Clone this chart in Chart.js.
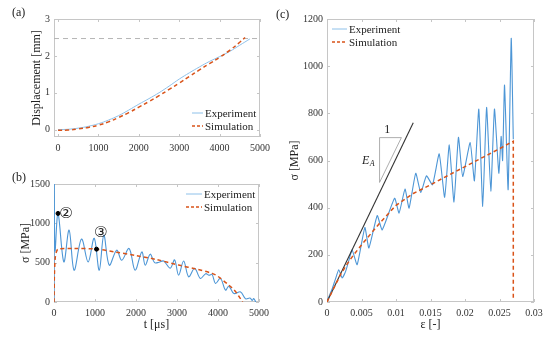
<!DOCTYPE html>
<html lang="en">
<head>
<meta charset="UTF-8">
<script src="https://cdn.jsdelivr.net/npm/chart.js"></script>
<title>Displacement and stress</title>
<style>
    body { margin: 0; background: #fff; }
    #wrap { position: relative; width: 550px; height: 337px; font-family: "Liberation Serif", "DejaVu Serif", serif; color: #222; }
    #wrap canvas { position: absolute; }
    .panel { position: absolute; font-size: 12px; }
    .leg { position: absolute; font-size: 11px; }
    .leg .row { display: flex; align-items: center; height: 13.5px; white-space: nowrap; }
    .leg svg { margin-right: 2px; }
</style>
</head>
<body>
<div id="wrap">
    <canvas id="chartA" width="275" height="165" style="left:0;top:0"></canvas>
    <canvas id="chartB" width="275" height="172" style="left:0;top:165px"></canvas>
    <canvas id="chartC" width="270" height="337" style="left:280px;top:0"></canvas>

    <div class="panel" style="left:12px;top:5px">(a)</div>
    <div class="panel" style="left:12px;top:170px">(b)</div>
    <div class="panel" style="left:276px;top:7px">(c)</div>

    <!-- legends -->
    <div class="leg" style="left:192px;top:106px">
        <div class="row"><svg width="11" height="4"><line x1="0" y1="2" x2="11" y2="2" stroke="#8ec1ea" stroke-width="1"/></svg>Experiment</div>
        <div class="row"><svg width="11" height="4"><line x1="0" y1="2" x2="11" y2="2" stroke="#D95319" stroke-width="1.5" stroke-dasharray="3 2"/></svg>Simulation</div>
    </div>
    <div class="leg" style="left:186px;top:187px">
        <div class="row"><svg width="16" height="4"><line x1="0" y1="2" x2="16" y2="2" stroke="#8ec1ea" stroke-width="1"/></svg>Experiment</div>
        <div class="row"><svg width="16" height="4"><line x1="0" y1="2" x2="16" y2="2" stroke="#D95319" stroke-width="1.5" stroke-dasharray="3 2"/></svg>Simulation</div>
    </div>
    <div class="leg" style="left:332px;top:22px">
        <div class="row"><svg width="15" height="4"><line x1="0" y1="2" x2="15" y2="2" stroke="#8ec1ea" stroke-width="1"/></svg>Experiment</div>
        <div class="row"><svg width="15" height="4"><line x1="0" y1="2" x2="15" y2="2" stroke="#D95319" stroke-width="1.5" stroke-dasharray="3 2"/></svg>Simulation</div>
    </div>
</div>

<script>
    // ---- (a) displacement vs time ----
    const timeExpA = [0, 250, 500, 750, 1000, 1250, 1500, 1750, 2000, 2250, 2500, 2750, 3000, 3250, 3500, 3750, 4000, 4250, 4500, 4750];
    const dispExpA = [0, 0.01, 0.04, 0.09, 0.16, 0.26, 0.38, 0.53, 0.69, 0.84, 1.0, 1.18, 1.37, 1.54, 1.7, 1.85, 1.98, 2.12, 2.29, 2.46];
    const timeSimA = [0, 250, 500, 750, 1000, 1250, 1500, 1750, 2000, 2250, 2500, 2750, 3000, 3250, 3500, 3750, 4000, 4250, 4500, 4630];
    const dispSimA = [-0.02, -0.01, 0.02, 0.06, 0.12, 0.21, 0.33, 0.46, 0.61, 0.76, 0.92, 1.09, 1.26, 1.44, 1.62, 1.79, 1.96, 2.15, 2.37, 2.5];
    const refLineX = [-100, 5000];
    const refLineY = [2.47, 2.47];
    const xTicksA = [0, 1000, 2000, 3000, 4000, 5000];
    const yTicksA = [0, 1, 2, 3];

    // ---- (b) stress vs time ----
    const timeExpB = [0, 8, 25, 98, 240, 368, 490, 671, 833, 980, 1103, 1215, 1348, 1529, 1652, 1831, 1978, 2142, 2225, 2346,
        2453, 2560, 2674, 2836, 2941, 3039, 3162, 3284, 3431, 3570, 3700, 3780, 3856, 3938, 4060, 4183, 4265, 4387, 4551, 4674,
        4780, 4837, 4870, 4920];
    const stressExpB = [0, 1500, 650, 1126, 510, 914, 404, 800, 510, 810, 404, 850, 468, 659, 531, 680, 404, 637, 468, 608,
        500, 505, 521, 430, 535, 342, 521, 321, 428, 300, 360, 340, 350, 236, 300, 150, 201, 108, 128, 40,
        50, 20, 45, 0];
    const timeSimB = [0, 10, 30, 60, 100, 500, 1037, 1500, 2000, 2500, 3039, 3500, 3856, 4000, 4265, 4400, 4500, 4600];
    const stressSimB = [0, 350, 560, 640, 672, 680, 672, 635, 590, 540, 470, 415, 364, 325, 214, 150, 80, 0];
    const markTime = [98, 1037];
    const markStress = [1126, 672];
    const xTicksB = [0, 1000, 2000, 3000, 4000, 5000];
    const yTicksB = [0, 500, 1000, 1500];

    // ---- (c) stress vs strain ----
    const strainExpC = [0, 0.0008, 0.0012, 0.0017, 0.0022, 0.0027, 0.0032, 0.00364, 0.00437, 0.00549, 0.00607, 0.00728, 0.008,
        0.0098, 0.01044, 0.01131, 0.01189, 0.01286, 0.01359, 0.01442, 0.01529, 0.01626, 0.01705, 0.01772, 0.0184, 0.01905,
        0.01966, 0.02075, 0.02136, 0.022, 0.02257, 0.02313, 0.02374, 0.02427, 0.0249, 0.02524, 0.02545, 0.02573, 0.02625,
        0.0267, 0.027];
    const stressExpC = [3, 60, 95, 137, 102, 130, 180, 221, 158, 316, 229, 366, 306,
        440, 377, 479, 398, 546, 464, 535, 497, 628, 444, 666, 424, 698,
        532, 676, 514, 818, 405, 825, 470, 818, 546, 702, 600, 920, 476,
        1118, 690];
    const strainSimC = [0, 0.001, 0.002, 0.003, 0.004, 0.005, 0.0075, 0.01, 0.0125, 0.015, 0.0175, 0.02, 0.0225, 0.025, 0.027, 0.027];
    const stressSimC = [0, 60, 118, 165, 205, 242, 330, 410, 460, 497, 536, 574, 612, 650, 682, 17];
    const strainEA = [0, 0.0125];
    const stressEA = [0, 760];
    const strainTri = [0.00762, 0.00762, 0.01078, 0.00762];
    const stressTri = [507, 697, 697, 507];
    const xTicksC = [0, 0.005, 0.01, 0.015, 0.02, 0.025, 0.03];
    const yTicksC = [0, 200, 400, 600, 800, 1000, 1200];

    const pts = (xs, ys) => xs.map((v, i) => ({ x: v, y: ys[i] }));

    Chart.defaults.font.family = '"Liberation Serif", "DejaVu Serif", serif';
    Chart.defaults.font.size = 10;
    Chart.defaults.color = '#333';

    const EXP = '#8ec1ea';
    const EXP_DARK = '#4d96d6';
    const SIM = '#D95319';
    const FRAME = '#c6c6c6';

    // box around the plot + small inward ticks (matlab style)
    const boxPlugin = {
        id: 'box',
        beforeDatasetsDraw(chart) {
            const { ctx, chartArea: a, scales } = chart;
            ctx.save();
            ctx.strokeStyle = FRAME;
            ctx.lineWidth = 1;
            ctx.strokeRect(Math.round(a.left) + 0.5, Math.round(a.top) + 0.5, Math.round(a.width) - 1, Math.round(a.height) - 1);
            ctx.beginPath();
            scales.x.ticks.forEach(t => {
                const px = Math.round(scales.x.getPixelForValue(t.value)) + 0.5;
                ctx.moveTo(px, a.bottom); ctx.lineTo(px, a.bottom - 3);
                ctx.moveTo(px, a.top); ctx.lineTo(px, a.top + 3);
            });
            scales.y.ticks.forEach(t => {
                const py = Math.round(scales.y.getPixelForValue(t.value)) + 0.5;
                ctx.moveTo(a.left, py); ctx.lineTo(a.left + 3, py);
                ctx.moveTo(a.right, py); ctx.lineTo(a.right - 3, py);
            });
            ctx.stroke();
            ctx.restore();
        }
    };

    // text notes placed at data coordinates
    const notesPlugin = {
        id: 'notes',
        afterDatasetsDraw(chart, args, opts) {
            const { ctx, scales } = chart;
            (opts.items || []).forEach(it => {
                const px = scales.x.getPixelForValue(it.x);
                const py = scales.y.getPixelForValue(it.y);
                ctx.save();
                ctx.fillStyle = '#222';
                ctx.textAlign = 'center';
                ctx.textBaseline = 'middle';
                ctx.font = it.font;
                ctx.fillText(it.text, px, py);
                if (it.sub) {
                    ctx.font = it.subFont;
                    ctx.textAlign = 'left';
                    ctx.fillText(it.sub, px + 4, py + 3);
                }
                ctx.restore();
            });
        }
    };

    function axis(min, max, tickVals, size, title, titlePad, vertical) {
        return {
            type: 'linear',
            min: min,
            max: max,
            afterBuildTicks: s => { s.ticks = tickVals.map(v => ({ value: v })); },
            afterFit: s => { if (vertical) s.width = size; else s.height = size; },
            grid: { display: false, drawTicks: false },
            border: { display: false },
            ticks: { padding: vertical ? 4 : 5, callback: v => String(+v.toFixed(4)), color: '#333' },
            title: {
                display: !!title,
                text: title,
                font: { size: 12 },
                color: '#222',
                padding: vertical ? { top: titlePad } : { bottom: titlePad, top: 0 }
            }
        };
    }

    const common = {
        responsive: false,
        animation: false,
        devicePixelRatio: 1,
        plugins: { legend: { display: false }, tooltip: { enabled: false } },
        elements: { point: { radius: 0 } }
    };

    // (a)
    new Chart(document.getElementById('chartA'), {
        type: 'line',
        data: {
            datasets: [
                { data: pts(timeSimA, dispSimA), borderColor: SIM, borderWidth: 1.5, borderDash: [4, 3], tension: 0.4, order: 0 },
                { data: pts(timeExpA, dispExpA), borderColor: EXP, borderWidth: 1, tension: 0.4, order: 1 },
                { data: pts(refLineX, refLineY), borderColor: '#b5b5b5', borderWidth: 1, borderDash: [5, 4], order: 2 }
            ]
        },
        options: Object.assign({}, common, {
            layout: { padding: { top: 19, right: 15, left: 0, bottom: 0 } },
            scales: {
                x: axis(-100, 5000, xTicksA, 28, '', 0, false),
                y: axis(-0.2, 3, yTicksA, 54, 'Displacement [mm]', 30, true)
            }
        }),
        plugins: [boxPlugin]
    });

    // (b)
    new Chart(document.getElementById('chartB'), {
        type: 'line',
        data: {
            datasets: [
                { data: pts(markTime, markStress), showLine: false, pointRadius: 2, pointBackgroundColor: '#000', pointBorderColor: '#000', order: -1 },
                { data: pts(timeSimB, stressSimB), borderColor: SIM, borderWidth: 1.5, borderDash: [4, 3], tension: 0.3, order: 0 },
                { data: pts(timeExpB, stressExpB), borderColor: EXP_DARK, borderWidth: 1.1, tension: 0.35, order: 1 }
            ]
        },
        options: Object.assign({}, common, {
            layout: { padding: { top: 19, right: 16, left: 0, bottom: 0 } },
            scales: {
                x: axis(0, 5000, xTicksB, 35, 't [\u03bcs]', 5, false),
                y: axis(0, 1500, yTicksB, 54, '\u03c3 [MPa]', 19, true)
            },
            plugins: Object.assign({}, common.plugins, {
                notes: {
                    items: [
                        { text: '\u2461', x: 290, y: 1117, font: '15px "DejaVu Sans", "Noto Sans CJK JP"' },
                        { text: '\u2462', x: 1137, y: 880, font: '15px "DejaVu Sans", "Noto Sans CJK JP"' }
                    ]
                }
            })
        }),
        plugins: [boxPlugin, notesPlugin]
    });

    // (c)
    new Chart(document.getElementById('chartC'), {
        type: 'line',
        data: {
            datasets: [
                { data: pts(strainSimC, stressSimC), borderColor: SIM, borderWidth: 1.5, borderDash: [4, 3], tension: 0, order: 0 },
                { data: pts(strainEA, stressEA), borderColor: '#333', borderWidth: 1.1, order: 1 },
                { data: pts(strainExpC, stressExpC), borderColor: EXP_DARK, borderWidth: 1.1, tension: 0.15, order: 2 },
                { data: pts(strainTri, stressTri), borderColor: '#999', borderWidth: 0.8, order: 3 }
            ]
        },
        options: Object.assign({}, common, {
            layout: { padding: { top: 19, right: 16, left: 0, bottom: 0 } },
            scales: {
                x: axis(0, 0.03, xTicksC, 35, '\u03b5 [-]', 5, false),
                y: axis(0, 1200, yTicksC, 47, '\u03c3 [MPa]', 8, true)
            },
            plugins: Object.assign({}, common.plugins, {
                notes: {
                    items: [
                        { text: '1', x: 0.00874, y: 730, font: '12px "Liberation Serif"' },
                        { text: 'E', x: 0.0056, y: 600, font: 'italic 12px "Liberation Serif"', sub: 'A', subFont: 'italic 8px "Liberation Serif"' }
                    ]
                }
            })
        }),
        plugins: [boxPlugin, notesPlugin]
    });
</script>
</body>
</html>
